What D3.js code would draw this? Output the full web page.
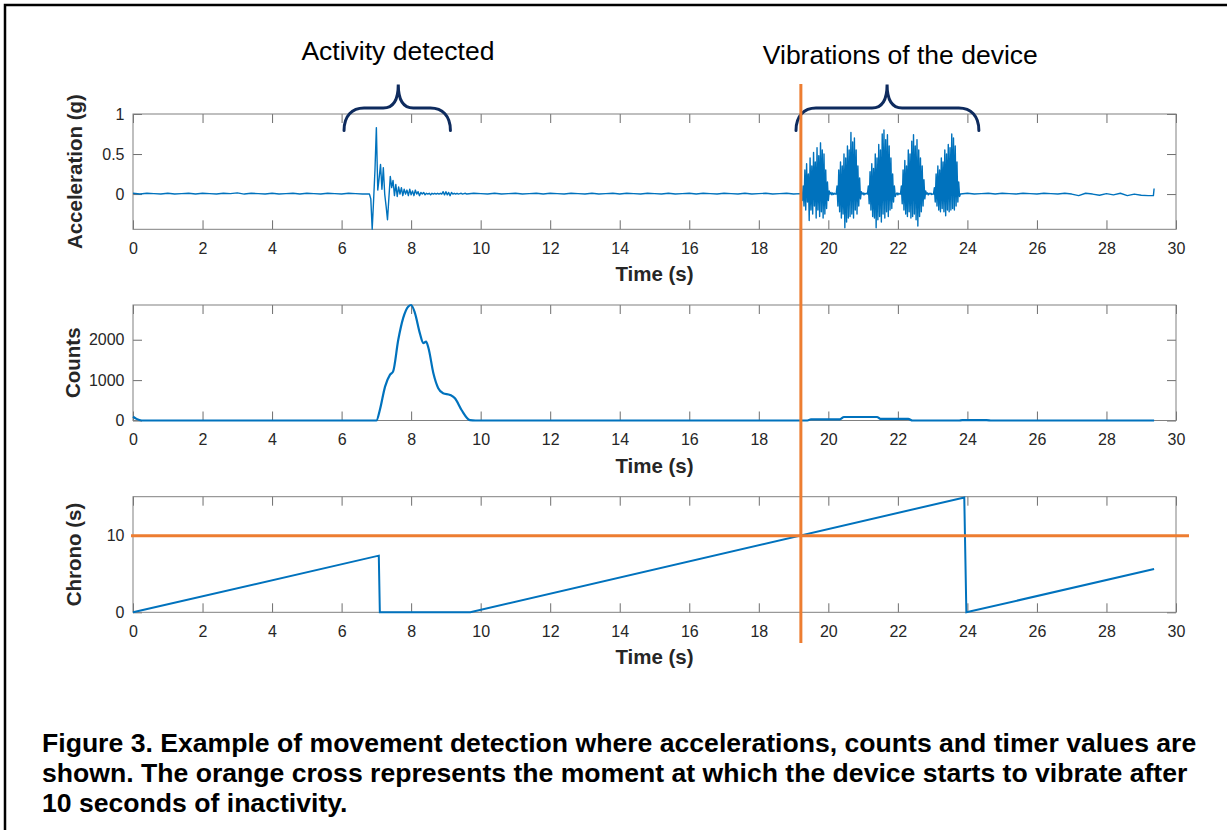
<!DOCTYPE html>
<html>
<head>
<meta charset="utf-8">
<script src="https://cdn.jsdelivr.net/npm/d3@7"></script>
<style>
  body { margin: 0; background: #fff; }
  text { font-family: "Liberation Sans", Arial, sans-serif; }
</style>
</head>
<body>
<script>
// ---- data ----

// acceleration (g), stored as segments sampled at a fixed step
const accelRest1 = [0.01, 0.0, 0.01, 0.005, 0.0, 0.01, 0.0, 0.005, 0.01, 0.0, 0.01, 0.005, 0.0, 0.01, 0.005, 0.015, 0.0,
  0.01, 0.005, 0.0, 0.01, 0.0, 0.005, 0.01, 0.0, 0.01, 0.005, 0.0, 0.01, 0.005, 0.0, 0.01, 0.005, 0.0];
const accelActivity = [0.0, -0.06, -0.44, -0.08, 0.3, 0.83, 0.05, 0.2, 0.37, 0.06, 0.33, 0.0, -0.15, -0.32, -0.05, 0.22,
  0.08, 0.17, -0.02, 0.12, -0.03, 0.09, 0.0, 0.08, -0.02, 0.06, 0.0, 0.05, -0.02, 0.06, -0.01, 0.04, -0.02, 0.05, 0.0,
  0.03, -0.02, 0.02, 0.0, 0.02, -0.01, 0.01, 0.0, 0.01, -0.01, 0.01, 0.0, 0.01, 0.0, 0.01, 0.0, 0.01, 0.0, 0.03, -0.01,
  0.03, -0.01, 0.02, -0.02, 0.02, 0.0, 0.01, 0.0, 0.01, 0.0, 0.005, 0.01, 0.0, 0.005, 0.01];
const accelRest2 = [0.0, 0.01, 0.005, 0.0, 0.01, 0.0, 0.005, 0.01, 0.0, 0.005, 0.01, 0.0, 0.01, 0.005, 0.0, 0.01, 0.005,
  0.0, 0.01, 0.0, 0.005, 0.01, 0.0, 0.01, 0.005, 0.0, 0.01, 0.005, 0.0, 0.01, 0.0, 0.005, 0.01, 0.0, 0.01, 0.005, 0.0,
  0.01, 0.005, 0.0, 0.01, 0.0, 0.005, 0.01, 0.0, 0.005, 0.01, 0.0, 0.005];
const accelVib1 = [0.0, -0.08, 0.1, -0.15, 0.3, -0.2, 0.38, -0.1, 0.25, -0.33, 0.45, -0.2, 0.35, -0.25, 0.52, -0.15, 0.4,
  -0.3, 0.58, -0.2, 0.48, -0.28, 0.64, -0.22, 0.55, -0.3, 0.5, -0.25, 0.3, -0.18, 0.15, -0.08, 0.04, 0.0, 0.02, -0.01,
  0.015, -0.005, 0.01, 0.0];
const accelVib2 = [0.0, 0.1, -0.15, 0.3, -0.22, 0.4, -0.3, 0.35, -0.25, 0.5, -0.42, 0.45, -0.35, 0.6, -0.3, 0.55, -0.28,
  0.77, -0.25, 0.65, -0.3, 0.7, -0.2, 0.55, -0.25, 0.35, -0.15, 0.2, -0.06, 0.03, 0.0, 0.015, -0.01, 0.01, 0.0, 0.01,
  -0.005, 0.0];
const accelVib3 = [0.0, 0.1, -0.12, 0.28, -0.2, 0.38, -0.28, 0.32, -0.3, 0.5, -0.42, 0.45, -0.32, 0.62, -0.28, 0.55,
  -0.35, 0.75, -0.25, 0.8, -0.3, 0.68, -0.22, 0.74, -0.28, 0.6, -0.2, 0.45, -0.18, 0.25, -0.1, 0.1, -0.03, 0.0, 0.015,
  -0.01, 0.01, 0.0];
const accelVib4 = [0.0, 0.1, -0.12, 0.3, -0.2, 0.42, -0.25, 0.35, -0.28, 0.55, -0.22, 0.5, -0.3, 0.66, -0.28, 0.74,
  -0.25, 0.6, -0.32, 0.68, -0.4, 0.55, -0.28, 0.45, -0.22, 0.35, -0.15, 0.18, -0.06, 0.04, 0.0, 0.015, -0.01, 0.01, 0.0,
  0.01, -0.005, 0.0];
const accelVib5 = [0.0, 0.08, -0.1, 0.25, -0.15, 0.35, -0.2, 0.3, -0.22, 0.45, -0.18, 0.4, -0.22, 0.55, -0.27, 0.5,
  -0.2, 0.62, -0.22, 0.58, -0.2, 0.75, -0.18, 0.7, -0.2, 0.6, -0.15, 0.4, -0.1, 0.15, -0.03, 0.0];
const accelRest3 = [0.01, 0.0, 0.005, 0.01, 0.0, 0.01, 0.005, 0.0, 0.01, 0.005, 0.0, 0.01, 0.005, 0.0, 0.01, 0.0, -0.02,
  0.01, 0.0, -0.015, 0.005, -0.01, 0.01, -0.02, 0.0, -0.015, -0.02];
const accelEnd = [-0.02, 0.07];

// counts
const countsTime = [0, 0.1, 0.25, 7.0, 7.1, 7.25, 7.39, 7.48, 7.63, 7.77, 7.92, 8.0, 8.11, 8.25, 8.35, 8.43, 8.5, 8.64,
  8.78, 8.92, 9.12, 9.26, 9.45, 9.69, 9.85, 19.4, 19.5, 20.33, 20.45, 21.4, 21.5, 22.3, 22.42, 23.75, 23.85, 24.55,
  24.7, 29.37];
const countsValue = [95, 40, 0, 0, 260, 840, 1130, 1210, 2000, 2535, 2825, 2860, 2660, 2165, 1915, 1955, 1790, 1170,
  800, 675, 633, 550, 260, 10, 0, 0, 30, 30, 87, 87, 40, 40, 0, 0, 10, 10, 0, 0];

// chrono (s)
const chronoTime = [0, 7.07, 7.1, 9.7, 23.91, 23.97, 29.37];
const chronoValue = [0, 7.4, 0, 0, 15.0, 0, 5.65];

// axes
const xTicks = [0, 2, 4, 6, 8, 10, 12, 14, 16, 18, 20, 22, 24, 26, 28, 30];
const accelTicks = [0, 0.5, 1];
const countsTicks = [0, 1000, 2000];
const chronoTicks = [0, 10];

// annotations
const braceStart = [6.07, 19.07];
const braceEnd = [9.13, 24.33];
const braceTip = [7.63, 21.69];
const braceLabelAt = [7.62, 22.07];
const braceLabels = ["Activity detected", "Vibrations of the device"];
const crossTime = 19.21;
const crossLevel = 10;

const captionLines = [
  "Figure 3. Example of movement detection where accelerations, counts and timer values are",
  "shown. The orange cross represents the moment at which the device starts to vibrate after",
  "10 seconds of inactivity."
];

// ---- drawing ----
const blue = "#0072BD", orange = "#ED7D31", navy = "#0E2B5E";
const width = 1227, height = 830;

const svg = d3.select("body").append("svg")
    .attr("width", width)
    .attr("height", height);

// figure frame
svg.append("path")
    .attr("d", "M5,832 V5 H1230")
    .attr("fill", "none")
    .attr("stroke", "#000")
    .attr("stroke-width", 2.5);

const x = d3.scaleLinear().domain([0, 30]).range([133, 1176]);

const panels = [
  {top: 114, bottom: 229.3, domain: [-0.44, 1], ticks: accelTicks, label: "Acceleration (g)", labelX: 82},
  {top: 305, bottom: 420.5, domain: [0, 2860], ticks: countsTicks, label: "Counts", labelX: 80},
  {top: 496.7, bottom: 612.3, domain: [0, 15.1], ticks: chronoTicks, label: "Chrono (s)", labelX: 80.5}
];

function styleAxis(g) {
  g.select(".domain").remove();
  g.selectAll(".tick line").attr("stroke", "#6e6e6e");
  g.selectAll(".tick text").attr("fill", "#262626").style("font-size", "16px");
}

panels.forEach(p => {
  p.y = d3.scaleLinear().domain(p.domain).range([p.bottom, p.top]);

  svg.append("g").attr("transform", `translate(0,${p.bottom})`)
      .call(d3.axisBottom(x).tickValues(xTicks).tickSize(-9).tickPadding(13).tickFormat(d => d))
      .call(styleAxis);
  svg.append("g").attr("transform", `translate(0,${p.top})`)
      .call(d3.axisTop(x).tickValues(xTicks).tickSize(-9).tickFormat(""))
      .call(styleAxis);
  svg.append("g").attr("transform", `translate(${x.range()[0]},0)`)
      .call(d3.axisLeft(p.y).tickValues(p.ticks).tickSize(-9).tickPadding(8.5).tickFormat(d => d))
      .call(styleAxis);
  svg.append("g").attr("transform", `translate(${x.range()[1]},0)`)
      .call(d3.axisRight(p.y).tickValues(p.ticks).tickSize(-9).tickFormat(""))
      .call(styleAxis);

  svg.append("rect")
      .attr("x", x.range()[0]).attr("y", p.top)
      .attr("width", x.range()[1] - x.range()[0]).attr("height", p.bottom - p.top)
      .attr("fill", "none").attr("stroke", "#808080").attr("stroke-width", 1);

  svg.append("text")
      .attr("x", (x.range()[0] + x.range()[1]) / 2).attr("y", p.bottom + 52)
      .attr("text-anchor", "middle")
      .style("font-size", "20.5px").style("font-weight", "bold").attr("fill", "#262626")
      .text("Time (s)");

  svg.append("text")
      .attr("transform", `translate(${p.labelX},${(p.top + p.bottom) / 2}) rotate(-90)`)
      .attr("text-anchor", "middle")
      .style("font-size", "20.5px").style("font-weight", "bold").attr("fill", "#262626")
      .text(p.label);
});

// acceleration
const accelSegments = [
  [0, 0.2, accelRest1], [6.8, 0.04, accelActivity], [9.6, 0.2, accelRest2],
  [19.225, 0.025, accelVib1], [20.225, 0.025, accelVib2], [21.125, 0.025, accelVib3],
  [22.075, 0.025, accelVib4], [23.025, 0.025, accelVib5], [24.0, 0.2, accelRest3], [29.35, 0.02, accelEnd]
];
const accelPoints = [];
accelSegments.forEach(([t0, dt, vals], k) => {
  const next = k + 1 < accelSegments.length ? accelSegments[k + 1][0] : Infinity;
  vals.forEach((v, i) => {
    const t = t0 + i * dt;
    if (t < next - 1e-9) accelPoints.push([t, v]);
  });
});

svg.append("path")
    .datum(accelPoints)
    .attr("fill", "none").attr("stroke", blue).attr("stroke-width", 1.4)
    .attr("stroke-linejoin", "round")
    .attr("d", d3.line().x(d => x(d[0])).y(d => panels[0].y(d[1])));

// counts
svg.append("path")
    .datum(countsTime.map((t, i) => [t, countsValue[i]]))
    .attr("fill", "none").attr("stroke", blue).attr("stroke-width", 2.2)
    .attr("d", d3.line().curve(d3.curveMonotoneX).x(d => x(d[0])).y(d => panels[1].y(d[1])));

// chrono
svg.append("path")
    .datum(chronoTime.map((t, i) => [t, chronoValue[i]]))
    .attr("fill", "none").attr("stroke", blue).attr("stroke-width", 2)
    .attr("d", d3.line().x(d => x(d[0])).y(d => panels[2].y(d[1])));

// braces + labels
braceStart.forEach((s, i) => {
  const x0 = x(s), x1 = x(braceEnd[i]), xt = x(braceTip[i]);
  const yEnd = 130.5, yMid = 108, yTip = 84.5;
  const d = `M${x0},${yEnd} C${x0},${yMid + 8} ${x0 + 8},${yMid} ${x0 + 20},${yMid}` +
    ` L${xt - 15},${yMid} C${xt - 5},${yMid} ${xt},${yMid - 8} ${xt},${yTip}` +
    ` C${xt},${yMid - 8} ${xt + 5},${yMid} ${xt + 15},${yMid}` +
    ` L${x1 - 20},${yMid} C${x1 - 8},${yMid} ${x1},${yMid + 8} ${x1},${yEnd}`;
  svg.append("path").attr("d", d)
      .attr("fill", "none").attr("stroke", navy).attr("stroke-width", 3)
      .attr("stroke-linecap", "round");
  svg.append("text")
      .attr("x", x(braceLabelAt[i])).attr("y", i === 0 ? 60 : 64)
      .attr("text-anchor", "middle")
      .style("font-size", "26.5px").attr("fill", "#000")
      .text(braceLabels[i]);
});

// orange cross
svg.append("line")
    .attr("x1", x(crossTime)).attr("x2", x(crossTime))
    .attr("y1", 84).attr("y2", 643)
    .attr("stroke", orange).attr("stroke-width", 3);
svg.append("line")
    .attr("x1", x.range()[0] - 2).attr("x2", x.range()[1] + 13)
    .attr("y1", panels[2].y(crossLevel)).attr("y2", panels[2].y(crossLevel))
    .attr("stroke", orange).attr("stroke-width", 3);

// caption
svg.append("g").selectAll("text")
    .data(captionLines)
    .join("text")
    .attr("x", 42).attr("y", (d, i) => 752 + i * 30)
    .style("font-size", "26.6px").style("font-weight", "bold").attr("fill", "#000")
    .text(d => d);
</script>
</body>
</html>
